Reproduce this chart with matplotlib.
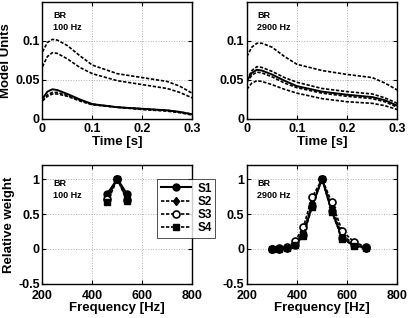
import numpy as np
import matplotlib.pyplot as plt

# Time course data (top panels)
t = [0, 0.01, 0.02, 0.03, 0.05, 0.075, 0.1, 0.15, 0.2, 0.25, 0.275, 0.3]

bl_a = [0.086, 0.098, 0.102, 0.101, 0.094, 0.081, 0.069, 0.058, 0.053, 0.048, 0.042, 0.033]
bl_b = [0.067, 0.080, 0.085, 0.084, 0.077, 0.066, 0.058, 0.049, 0.044, 0.039, 0.034, 0.027]
bl_c = [0.026, 0.035, 0.038, 0.037, 0.032, 0.025, 0.019, 0.015, 0.013, 0.011, 0.009, 0.006]
bl_d = [0.024, 0.031, 0.034, 0.034, 0.030, 0.024, 0.019, 0.015, 0.013, 0.011, 0.009, 0.006]
bl_e = [0.023, 0.029, 0.032, 0.032, 0.029, 0.023, 0.018, 0.015, 0.012, 0.010, 0.008, 0.005]

br_a = [0.080, 0.092, 0.097, 0.097, 0.092, 0.080, 0.070, 0.062, 0.057, 0.053, 0.046, 0.037]
br_b = [0.050, 0.062, 0.067, 0.066, 0.061, 0.053, 0.047, 0.039, 0.035, 0.032, 0.027, 0.020]
br_c = [0.049, 0.059, 0.063, 0.062, 0.057, 0.049, 0.042, 0.035, 0.031, 0.028, 0.024, 0.017]
br_d = [0.047, 0.056, 0.060, 0.059, 0.054, 0.046, 0.040, 0.033, 0.029, 0.026, 0.022, 0.015]
br_e = [0.038, 0.046, 0.049, 0.048, 0.044, 0.038, 0.033, 0.026, 0.022, 0.020, 0.017, 0.012]

# Tuning curves (bottom panels)
f_100 = [460, 500, 540]
w100_s1 = [0.79, 1.0, 0.78]
w100_s2 = [0.75, 1.0, 0.74]
w100_s3 = [0.72, 1.0, 0.70]
w100_s4 = [0.67, 1.0, 0.68]

f_2900 = [300, 330, 360, 392, 425, 460, 500, 538, 580, 627, 675]
w2900_s1 = [0.0, 0.0, 0.02, 0.06, 0.20, 0.62, 1.0, 0.55, 0.16, 0.05, 0.02]
w2900_s2 = [0.0, 0.0, 0.02, 0.08, 0.24, 0.66, 1.0, 0.60, 0.20, 0.07, 0.02]
w2900_s3 = [0.0, 0.01, 0.03, 0.11, 0.31, 0.74, 1.0, 0.67, 0.26, 0.10, 0.03]
w2900_s4 = [0.0, 0.0, 0.02, 0.05, 0.19, 0.60, 1.0, 0.53, 0.15, 0.04, 0.01]

plt.rcParams["font.family"] = "Liberation Sans"
plt.rcParams["font.weight"] = "bold"

fig = plt.figure(figsize=(4.08, 3.18), dpi=100)
ax_tl = fig.add_axes([0.104, 0.626, 0.367, 0.368])
ax_tr = fig.add_axes([0.605, 0.626, 0.369, 0.368])
ax_bl = fig.add_axes([0.104, 0.107, 0.367, 0.374])
ax_br = fig.add_axes([0.605, 0.107, 0.369, 0.374])

dash = (0, (2, 1))


def style(ax, xpad=2):
    ax.grid(True, color="#b0b0b0", linestyle=":", linewidth=0.7)
    ax.tick_params(direction="in", length=3, width=0.8, labelsize=9,
                   top=True, right=True, pad=2)
    ax.tick_params(axis="x", pad=xpad)
    for s in ax.spines.values():
        s.set_linewidth(1.0)
    for lab in ax.get_xticklabels() + ax.get_yticklabels():
        lab.set_fontweight("bold")


for ax, curves, name in [
    (ax_tl, [bl_a, bl_b, bl_c, bl_d, bl_e], "100 Hz"),
    (ax_tr, [br_a, br_b, br_c, br_d, br_e], "2900 Hz"),
]:
    for i, c in enumerate(curves):
        if i == 2:
            ax.plot(t, c, color="black", linewidth=1.4)
        else:
            ax.plot(t, c, color="black", linewidth=1.2, linestyle=dash)
    ax.set_xlim(0, 0.3)
    ax.set_ylim(0, 0.15)
    ax.set_xticks([0, 0.1, 0.2, 0.3])
    ax.set_xticklabels(["0", "0.1", "0.2", "0.3"])
    ax.set_yticks([0, 0.05, 0.1])
    ax.set_yticklabels(["0", "0.05", "0.1"])
    ax.set_xlabel("Time [s]", fontsize=9.5, fontweight="bold", labelpad=1)
    ax.text(0.07, 0.92, "BR\n" + name, transform=ax.transAxes, fontsize=6.5,
            fontweight="bold", va="top", ha="left", linespacing=1.4)
    style(ax, xpad=3)

ax_tl.set_ylabel("Model Units", fontsize=9.5, fontweight="bold", labelpad=2)

handles = []
for ax, f, series, name in [
    (ax_bl, f_100, [w100_s1, w100_s2, w100_s3, w100_s4], "100 Hz"),
    (ax_br, f_2900, [w2900_s1, w2900_s2, w2900_s3, w2900_s4], "2900 Hz"),
]:
    h1, = ax.plot(f, series[0], color="black", linewidth=1.5, marker="o",
                  markersize=5, label="S1")
    h2, = ax.plot(f, series[1], color="black", linewidth=1.2, linestyle=dash,
                  marker="d", markersize=4.5, label="S2")
    h3, = ax.plot(f, series[2], color="black", linewidth=1.2, linestyle=dash,
                  marker="o", markersize=5, markerfacecolor="white",
                  markeredgewidth=1.2, label="S3")
    h4, = ax.plot(f, series[3], color="black", linewidth=1.2, linestyle=dash,
                  marker="s", markersize=4, label="S4")
    handles = [h1, h2, h3, h4]
    ax.set_xlim(200, 800)
    ax.set_ylim(-0.5, 1.2)
    ax.set_xticks([200, 400, 600, 800])
    ax.set_yticks([-0.5, 0, 0.5, 1])
    ax.set_yticklabels(["-0.5", "0", "0.5", "1"])
    ax.set_xlabel("Frequency [Hz]", fontsize=9.5, fontweight="bold", labelpad=0)
    ax.text(0.07, 0.88, "BR\n" + name, transform=ax.transAxes, fontsize=6.5,
            fontweight="bold", va="top", ha="left", linespacing=1.4)
    style(ax, xpad=4.5)

ax_bl.set_ylabel("Relative weight", fontsize=9.5, fontweight="bold", labelpad=2)

leg = fig.legend(handles, ["S1", "S2", "S3", "S4"], loc="upper left",
                 bbox_to_anchor=(0.385, 0.437), fontsize=8.5, frameon=True,
                 fancybox=False, edgecolor="black", handlelength=2.6,
                 borderpad=0.3, labelspacing=0.1, handletextpad=0.5,
                 borderaxespad=0)
leg.get_frame().set_linewidth(0.6)
for txt in leg.get_texts():
    txt.set_fontweight("bold")

fig.savefig("out.png", dpi=100)
